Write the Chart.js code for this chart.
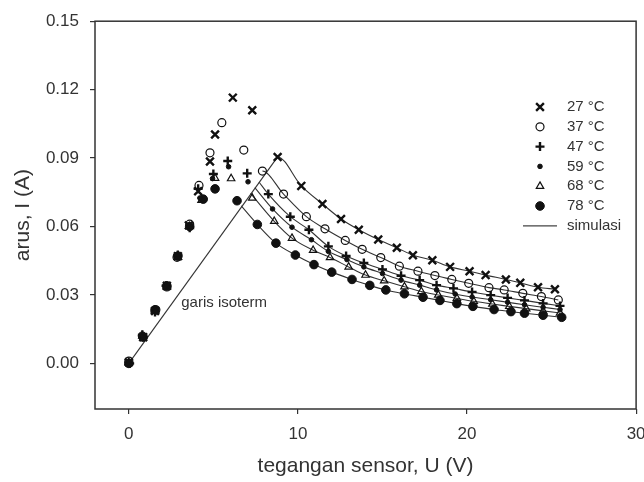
<!DOCTYPE html>
<html>
<head>
<meta charset="utf-8">
<script src="https://cdn.jsdelivr.net/npm/chart.js@4.4.0/dist/chart.umd.min.js"></script>
<style>
  html, body { margin: 0; padding: 0; background: #fff; }
  #wrap { width: 644px; height: 482px; }
</style>
</head>
<body>
<div id="wrap"><canvas id="ivChart" width="644" height="482"></canvas></div>
<script>
// tick labels
const xTicks = [0, 10, 20, 30];
const yTicks = [0, 0.03, 0.06, 0.09, 0.12, 0.15];

const labels = ['27 °C', '37 °C', '47 °C', '59 °C', '68 °C', '78 °C'];

const u27 = [0.0, 0.85, 1.55, 2.25, 2.9, 3.55, 4.1, 4.8, 5.1, 6.15, 7.3, 8.8, 10.2, 11.45, 12.55, 13.6, 14.75, 15.85, 16.8, 17.95, 19.0, 20.15, 21.1, 22.3, 23.15, 24.2, 25.2];
const i27 = [0.0005, 0.0115, 0.023, 0.034, 0.047, 0.0605, 0.0755, 0.0885, 0.1003, 0.1165, 0.111, 0.0905, 0.0778, 0.0699, 0.0633, 0.0586, 0.0543, 0.0507, 0.0474, 0.0452, 0.0423, 0.0404, 0.0387, 0.0368, 0.0353, 0.0334, 0.0325];

const u37 = [0.0, 0.8, 1.6, 2.25, 2.85, 3.6, 4.15, 4.8, 5.5, 6.8, 7.9, 9.15, 10.5, 11.6, 12.8, 13.8, 14.9, 16.0, 17.1, 18.1, 19.1, 20.1, 21.3, 22.2, 23.3, 24.4, 25.4];
const i37 = [0.001, 0.012, 0.0235, 0.0335, 0.0465, 0.061, 0.078, 0.0923, 0.1055, 0.0935, 0.0843, 0.0742, 0.0643, 0.059, 0.0539, 0.05, 0.0464, 0.0426, 0.0404, 0.0385, 0.0368, 0.0351, 0.0332, 0.0322, 0.0307, 0.0293, 0.0278];

const u47 = [0.05, 0.8, 1.55, 2.2, 2.9, 3.6, 4.1, 5.0, 5.85, 7.0, 8.25, 9.55, 10.65, 11.8, 12.85, 13.9, 15.0, 16.1, 17.2, 18.2, 19.2, 20.3, 21.4, 22.4, 23.4, 24.5, 25.5];
const i47 = [0.0, 0.0125, 0.0225, 0.034, 0.0475, 0.0595, 0.0765, 0.083, 0.0887, 0.0833, 0.0742, 0.0643, 0.0586, 0.0513, 0.0471, 0.044, 0.0412, 0.0384, 0.0365, 0.0343, 0.0329, 0.0313, 0.0299, 0.0287, 0.0276, 0.0263, 0.0252];

const u59 = [0.0, 0.85, 1.6, 2.3, 2.9, 3.55, 4.2, 4.95, 5.9, 7.05, 8.5, 9.65, 10.8, 11.8, 12.9, 13.9, 15.0, 16.1, 17.2, 18.2, 19.3, 20.3, 21.4, 22.4, 23.4, 24.5, 25.5];
const i59 = [0.0, 0.0115, 0.0225, 0.0335, 0.0465, 0.0595, 0.0725, 0.081, 0.0862, 0.0796, 0.0677, 0.0597, 0.0542, 0.0491, 0.0455, 0.0423, 0.0394, 0.0365, 0.0343, 0.0322, 0.0304, 0.0291, 0.0279, 0.0268, 0.0257, 0.0246, 0.0236];

const u68 = [0.0, 0.8, 1.55, 2.25, 2.9, 3.6, 4.3, 5.1, 6.05, 7.3, 8.6, 9.65, 10.9, 11.9, 13.0, 14.0, 15.1, 16.3, 17.3, 18.3, 19.4, 20.4, 21.5, 22.5, 23.5, 24.5, 25.5];
const i68 = [0.0005, 0.012, 0.023, 0.0335, 0.0465, 0.06, 0.0715, 0.0812, 0.081, 0.0725, 0.0623, 0.0549, 0.0496, 0.0464, 0.0423, 0.0387, 0.0362, 0.0336, 0.0315, 0.03, 0.0285, 0.0272, 0.026, 0.025, 0.024, 0.023, 0.0221];

const u78 = [0.0, 0.85, 1.55, 2.25, 2.9, 3.6, 4.4, 5.1, 6.4, 7.6, 8.7, 9.85, 10.95, 12.0, 13.2, 14.25, 15.2, 16.3, 17.4, 18.4, 19.4, 20.35, 21.6, 22.6, 23.4, 24.5, 25.6];
const i78 = [0.0, 0.0115, 0.0235, 0.034, 0.047, 0.06, 0.072, 0.0765, 0.0713, 0.0609, 0.0527, 0.0475, 0.0433, 0.04, 0.0368, 0.0342, 0.0322, 0.0305, 0.029, 0.0276, 0.0262, 0.025, 0.0236, 0.0227, 0.022, 0.0211, 0.0202];

// simulation: each curve leaves the isotherm line, then follows the falling branch
const decayFrom = [11, 10, 10, 10, 10, 9];
const simStartU = [8.8, 7.9, 7.7, 7.45, 7.2, 6.65];
const simStartI = [0.0905, 0.0843, 0.0795, 0.077, 0.0745, 0.069];

// isotherm line
const isoU = [0, 8.8];
const isoI = [0, 0.0905];

const uAll = [u27, u37, u47, u59, u68, u78];
const iAll = [i27, i37, i47, i59, i68, i78];

const markers = [
  { pointStyle: 'crossRot', radius: 5.5, borderWidth: 2.4, fill: '#111' },
  { pointStyle: 'circle', radius: 4, borderWidth: 1.2, fill: 'rgba(0,0,0,0)' },
  { pointStyle: 'cross', radius: 4.5, borderWidth: 2.4, fill: '#111' },
  { pointStyle: 'circle', radius: 2.3, borderWidth: 1, fill: '#111' },
  { pointStyle: 'triangle', radius: 4.3, borderWidth: 1.2, fill: 'rgba(0,0,0,0)' },
  { pointStyle: 'circle', radius: 4.3, borderWidth: 1, fill: '#111' }
];

const toPts = (xs, ys) => xs.map((x, k) => ({ x: x, y: ys[k] }));

let datasets = [];

datasets.push({
  label: 'isoterm',
  data: toPts(isoU, isoI),
  showLine: true,
  borderColor: '#333',
  borderWidth: 1.1,
  pointRadius: 0,
  order: 10
});

uAll.forEach((us, t) => {
  const pts = [{ x: simStartU[t], y: simStartI[t] }].concat(toPts(us, iAll[t]).slice(decayFrom[t]));
  datasets.push({
    label: 'sim ' + labels[t],
    data: pts,
    showLine: true,
    borderColor: '#333',
    borderWidth: 1.1,
    pointRadius: 0,
    cubicInterpolationMode: 'monotone',
    order: 10
  });
});

uAll.forEach((us, t) => {
  const m = markers[t];
  datasets.push({
    label: labels[t],
    data: toPts(us, iAll[t]),
    showLine: false,
    pointStyle: m.pointStyle,
    pointRadius: m.radius,
    pointBorderWidth: m.borderWidth,
    pointBorderColor: '#111',
    pointBackgroundColor: m.fill,
    order: 1
  });
});

function drawMarker(ctx, m, x, y) {
  ctx.save();
  ctx.strokeStyle = '#111';
  ctx.fillStyle = m.fill;
  ctx.lineWidth = m.borderWidth;
  if (Chart.helpers && Chart.helpers.drawPoint) {
    Chart.helpers.drawPoint(ctx, { pointStyle: m.pointStyle, radius: m.radius, rotation: 0, borderWidth: m.borderWidth }, x, y);
  } else {
    ctx.beginPath();
    ctx.arc(x, y, m.radius, 0, Math.PI * 2);
    ctx.fill();
    ctx.stroke();
  }
  ctx.restore();
}

const extras = {
  id: 'extras',
  afterDraw(chart) {
    const ctx = chart.ctx;
    const a = chart.chartArea;
    ctx.save();
    // frame
    ctx.strokeStyle = '#333';
    ctx.lineWidth = 1.5;
    ctx.strokeRect(a.left, a.top, a.right - a.left, a.bottom - a.top);

    // legend inside the plot
    ctx.font = '15px "Liberation Sans", Arial, sans-serif';
    ctx.fillStyle = '#333';
    ctx.textBaseline = 'middle';
    ctx.textAlign = 'left';
    labels.forEach((lab, k) => {
      const y = 107 + k * 19.8;
      drawMarker(ctx, markers[k], 540, y);
      ctx.fillStyle = '#333';
      ctx.fillText(lab, 567, y);
    });
    const ys = 107 + 6 * 19.8;
    ctx.strokeStyle = '#444';
    ctx.lineWidth = 1.3;
    ctx.beginPath();
    ctx.moveTo(523, ys);
    ctx.lineTo(557, ys);
    ctx.stroke();
    ctx.fillText('simulasi', 567, ys);

    // isotherm label
    const sx = chart.scales.x, sy = chart.scales.y;
    ctx.fillText('garis isoterm', sx.getPixelForValue(3.1), sy.getPixelForValue(0.0265));
    ctx.restore();
  }
};

Chart.defaults.font.family = '"Liberation Sans", Arial, sans-serif';
Chart.defaults.color = '#333';

new Chart(document.getElementById('ivChart'), {
  type: 'scatter',
  data: { datasets: datasets },
  options: {
    responsive: false,
    animation: false,
    layout: { padding: { top: 10, right: 7, left: 0, bottom: 0 } },
    plugins: { legend: { display: false }, tooltip: { enabled: false } },
    scales: {
      x: {
        type: 'linear',
        min: -2,
        max: 30,
        afterBuildTicks: s => { s.ticks = xTicks.map(v => ({ value: v })); },
        afterFit: s => { s.height = 73; s.paddingRight = 0; },
        ticks: { font: { size: 17 }, padding: 10, maxRotation: 0, color: '#333' },
        grid: { drawOnChartArea: false, drawTicks: true, tickLength: 5, color: '#333', lineWidth: 1.2 },
        border: { display: false },
        title: { display: true, text: 'tegangan sensor, U (V)', font: { size: 21 }, color: '#333', padding: { top: 4, bottom: 3 } }
      },
      y: {
        type: 'linear',
        min: -0.02,
        max: 0.15,
        afterBuildTicks: s => { s.ticks = yTicks.map(v => ({ value: v })); },
        afterFit: s => { s.width = 95; },
        ticks: { font: { size: 17 }, padding: 11, color: '#333', callback: v => v.toFixed(2) },
        grid: { drawOnChartArea: false, drawTicks: true, tickLength: 5, color: '#333', lineWidth: 1.2 },
        border: { display: false },
        title: { display: true, text: 'arus, I (A)', font: { size: 21 }, color: '#333', padding: { top: 11, bottom: 4 } }
      }
    }
  },
  plugins: [extras]
});
</script>
</body>
</html>
